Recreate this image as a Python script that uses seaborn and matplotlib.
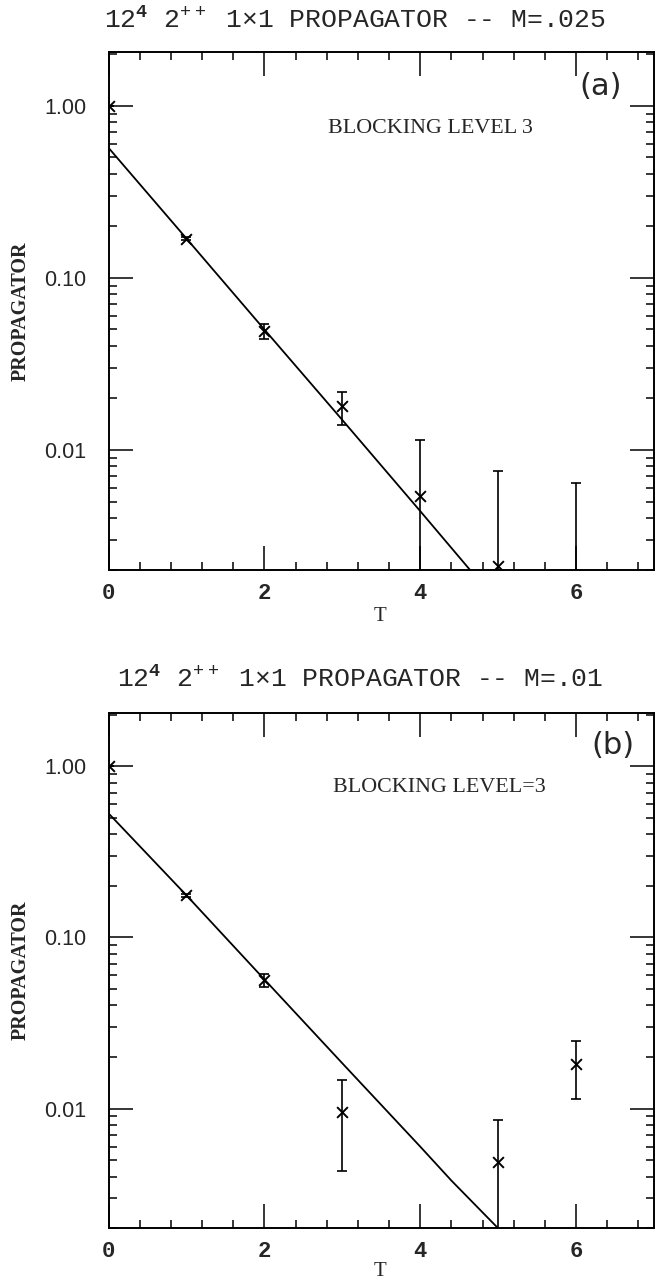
import numpy as np
import matplotlib
matplotlib.use("Agg")
import matplotlib.pyplot as plt
import seaborn as sns
from matplotlib.ticker import MultipleLocator, LogLocator, FuncFormatter, NullFormatter

# Panel (a) -- M=.025
t_a = [0, 1, 2, 3, 4, 5, 6]
prop_a = [1.0, 0.168, 0.049, 0.0179, 0.0054, 0.0021, 0.0012]
lo_a = [1.0, 0.165, 0.0443, 0.0140, 0.0008, 0.0008, 0.0008]
hi_a = [1.0, 0.172, 0.054, 0.0218, 0.0114, 0.0075, 0.0064]
fit_t_a = [0, 1, 2, 3, 4, 4.64]
fit_a = [0.569, 0.169, 0.050, 0.0149, 0.0044, 0.0020]

# Panel (b) -- M=.01
t_b = [0, 1, 2, 3, 5, 6]
prop_b = [1.0, 0.176, 0.0563, 0.0095, 0.00486, 0.0182]
lo_b = [1.0, 0.172, 0.051, 0.00435, 0.0008, 0.0114]
hi_b = [1.0, 0.180, 0.061, 0.0147, 0.0086, 0.0249]
fit_t_b = [0, 1, 2, 3, 4, 4.4, 5.0]
fit_b = [0.53, 0.176, 0.0568, 0.0184, 0.0060, 0.0038, 0.0020]

titles = ["12$^{\\mathbf{4}}$ 2$^{++}$ 1\u00d71 PROPAGATOR -- M=.025",
          "12$^{\\mathbf{4}}$ 2$^{++}$ 1\u00d71 PROPAGATOR -- M=.01"]
notes = ["BLOCKING LEVEL 3", "BLOCKING LEVEL=3"]
tags = ["(a)", "(b)"]

sns.set_style("ticks")
plt.rcParams["font.family"] = ["Liberation Serif", "DejaVu Serif"]
plt.rcParams["mathtext.fontset"] = "custom"
plt.rcParams["mathtext.rm"] = "Liberation Mono"
plt.rcParams["mathtext.bf"] = "Liberation Mono:bold"


def draw_panel(ax, t, prop, lo, hi, fit_t, fit, note, tag, note_pos, tag_pos, xlab_y):
    prop = np.array(prop)
    err = [prop - np.array(lo), np.array(hi) - prop]
    ax.set_yscale("log")
    sns.lineplot(x=fit_t, y=fit, ax=ax, color="black", linewidth=1.3, sort=False, legend=False)
    ax.errorbar(t, prop, yerr=err, fmt="none", ecolor="black", elinewidth=1.2, capsize=3.3, capthick=1.2)
    sns.scatterplot(x=t, y=prop, ax=ax, marker="x", s=60, color="black", linewidth=1.4, legend=False)

    ax.set_xlim(0, 7)
    ax.set_ylim(0.002, 2.05)
    ax.set_xticks([0, 2, 4, 6], ["0", "2", "4", "6"], fontfamily="Liberation Mono", fontweight="bold")
    ax.xaxis.set_minor_locator(MultipleLocator(0.4))
    ax.yaxis.set_major_locator(LogLocator(base=10, numticks=10))
    ax.yaxis.set_minor_locator(LogLocator(base=10, subs=np.arange(2, 10), numticks=20))
    ax.yaxis.set_major_formatter(FuncFormatter(lambda v, _: f"{v:.2f}"))
    ax.yaxis.set_minor_formatter(NullFormatter())
    ax.tick_params(which="both", direction="in", top=True, right=True, color="black", width=1.1)
    ax.tick_params(which="major", length=17)
    ax.tick_params(which="minor", length=6)
    ax.tick_params(axis="y", which="major", pad=16, labelsize=15.5, labelfontfamily="Liberation Sans")
    ax.tick_params(axis="x", which="major", pad=9.4, labelsize=16)
    for s in ax.spines.values():
        s.set_linewidth(1.4)
        s.set_color("black")

    ax.set_ylabel("PROPAGATOR", fontweight="bold", fontsize=14.5)
    ax.yaxis.set_label_coords(-0.143, 0.5)
    ax.set_xlabel("T", fontsize=15)
    ax.xaxis.set_label_coords(0.498, xlab_y)

    ax.text(note_pos[0], note_pos[1], note, transform=ax.transAxes, ha="center", va="center", fontsize=15.8)
    ax.text(tag_pos[0], tag_pos[1], tag, transform=ax.transAxes, ha="center", va="center",
            fontfamily="DejaVu Sans", fontsize=22)


fig = plt.figure(figsize=(6.59, 12.81), dpi=100)
ax_a = fig.add_axes([108.5 / 659, 1 - 570 / 1281, 545.5 / 659, 518 / 1281])
ax_b = fig.add_axes([108.5 / 659, 1 - 1228.3 / 1281, 545.5 / 659, 515.6 / 1281])

draw_panel(ax_a, t_a, prop_a, lo_a, hi_a, fit_t_a, fit_a, notes[0], tags[0],
           (0.591, 0.853), (0.903, 0.933), -0.071)
draw_panel(ax_b, t_b, prop_b, lo_b, hi_b, fit_t_b, fit_b, notes[1], tags[1],
           (0.606, 0.854), (0.925, 0.937), -0.066)

fig.text(355 / 659, 1 - 28.3 / 1281, titles[0], ha="center", va="baseline",
         fontfamily="Liberation Mono", fontsize=19)
fig.text(360 / 659, 1 - 686.7 / 1281, titles[1], ha="center", va="baseline",
         fontfamily="Liberation Mono", fontsize=19)

fig.savefig("out.png", dpi=100)
